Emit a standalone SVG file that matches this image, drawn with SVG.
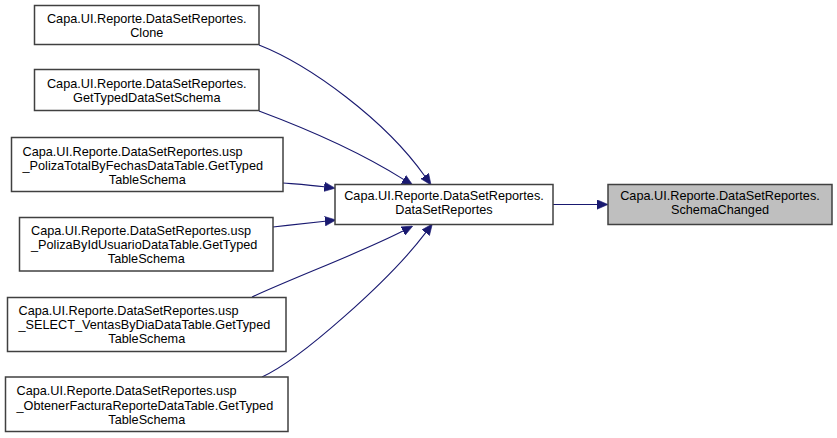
<svg xmlns="http://www.w3.org/2000/svg" width="837" height="438" viewBox="0 0 837 438">
<style>
.node rect{fill:#ffffff;stroke:#404040;stroke-width:1.5}
.node.cur rect{fill:#bfbfbf}
.node text{font-family:"Liberation Sans",Arial,sans-serif;font-size:12.7px;fill:#000000}
.m{text-anchor:middle}
.s{text-anchor:start}
.edge{fill:none;stroke:#191970;stroke-width:1.1;marker-end:url(#arr)}
</style>
<defs>
<marker id="arr" markerUnits="userSpaceOnUse" viewBox="0 0 11 10" refX="0" refY="5" markerWidth="11" markerHeight="10" orient="auto">
<path d="M0,0.3 L11,5 L0,9.7 z" fill="#191970" stroke="#191970" stroke-width="0.6"/>
</marker>
</defs>
<rect width="837" height="438" fill="#ffffff"/>
<g id="edges">
<path class="edge" d="M553,204.5 L597,204.5"/>
<path class="edge" d="M259,45 C310,65 385,120 424.7,176"/>
<path class="edge" d="M259,111 C310,130 360,152 403.5,179.4"/>
<path class="edge" d="M283,183 C295,184 310,185 324.2,186.8"/>
<path class="edge" d="M273,227 C290,225 305,223.5 325,221.2"/>
<path class="edge" d="M252,297 C300,275 360,253 402.9,231.1"/>
<path class="edge" d="M262,377 C300,360 390,280 425.7,232.7"/>
</g>
<g id="node-schemachanged" class="node cur">
<rect x="608" y="184.5" width="224" height="40"/>
<text class="m" x="720" y="200">Capa.UI.Reporte.DataSetReportes.</text>
<text class="m" x="720" y="214">SchemaChanged</text>
</g>
<g id="node-datasetreportes" class="node">
<rect x="335" y="184.5" width="218" height="40"/>
<text class="m" x="444" y="200">Capa.UI.Reporte.DataSetReportes.</text>
<text class="m" x="444" y="214">DataSetReportes</text>
</g>
<g id="node-clone" class="node">
<rect x="34.5" y="5.5" width="224.5" height="39"/>
<text class="m" x="146.75" y="22.5">Capa.UI.Reporte.DataSetReportes.</text>
<text class="m" x="146.75" y="36.5">Clone</text>
</g>
<g id="node-gettypeddatasetschema" class="node">
<rect x="34.5" y="69.5" width="224.5" height="41"/>
<text class="m" x="146.75" y="87.5">Capa.UI.Reporte.DataSetReportes.</text>
<text class="m" x="146.75" y="101.5">GetTypedDataSetSchema</text>
</g>
<g id="node-polizatotal" class="node">
<rect x="11.5" y="137.5" width="271.5" height="54"/>
<text class="s" x="22.5" y="155.5">Capa.UI.Reporte.DataSetReportes.usp</text>
<text class="s" x="22.5" y="169.5">_PolizaTotalByFechasDataTable.GetTyped</text>
<text class="m" x="147.25" y="183.5">TableSchema</text>
</g>
<g id="node-polizabyid" class="node">
<rect x="19.5" y="217.5" width="253.5" height="53.5"/>
<text class="s" x="31" y="234.5">Capa.UI.Reporte.DataSetReportes.usp</text>
<text class="s" x="31" y="248.5">_PolizaByIdUsuarioDataTable.GetTyped</text>
<text class="m" x="146.25" y="262.5">TableSchema</text>
</g>
<g id="node-select" class="node">
<rect x="7.5" y="297.5" width="278.5" height="54"/>
<text class="s" x="18.5" y="315">Capa.UI.Reporte.DataSetReportes.usp</text>
<text class="s" x="18.5" y="329">_SELECT_VentasByDiaDataTable.GetTyped</text>
<text class="m" x="146.75" y="343">TableSchema</text>
</g>
<g id="node-obtener" class="node">
<rect x="5.5" y="377" width="282.5" height="54.5"/>
<text class="s" x="16.5" y="395">Capa.UI.Reporte.DataSetReportes.usp</text>
<text class="s" x="16.5" y="409.5">_ObtenerFacturaReporteDataTable.GetTyped</text>
<text class="m" x="146.75" y="424">TableSchema</text>
</g>
</svg>
